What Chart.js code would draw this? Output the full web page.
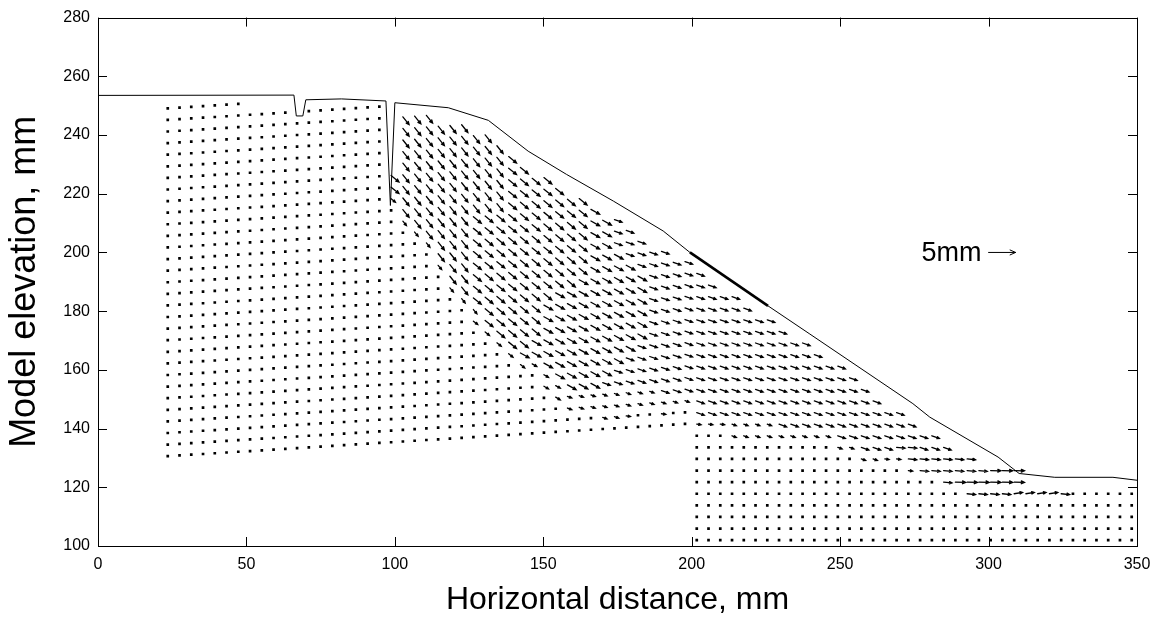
<!DOCTYPE html>
<html>
<head>
<meta charset="utf-8">
<script src="https://cdn.jsdelivr.net/npm/chart.js@4.4.1/dist/chart.umd.min.js"></script>
<style>
  html, body { margin: 0; padding: 0; background: #fff; }
  canvas { display: block; }
</style>
</head>
<body>
<canvas id="fieldChart" width="1160" height="621"></canvas>
<script>
// Ground surface of the model (mm)
const surfaceX = [0, 66, 66.8, 69, 70, 82, 97, 98.5, 100, 118, 131.5, 144.9, 157.8, 173.6, 190.4, 199.4, 225.7, 239.8, 274.5, 280.2, 303.2, 310.3, 322.3, 341.9, 350];
const surfaceY = [253.5, 253.6, 246.5, 246.5, 252, 252.3, 251.6, 216, 251, 249.3, 245, 234.5, 226.6, 217.5, 207.3, 200, 181.8, 172.2, 148.5, 143.9, 130.3, 124.7, 123.4, 123.4, 122.4];
// stretch of the surface drawn twice (heavier line)
const heavyX = [199.4, 225.7];
const heavyY = [200, 181.8];

// Measuring grid (mm)
const gridX0 = 23.5;      // first column
const gridDx = 3.96;      // column spacing
const gridDy = 3.95;      // row spacing
const upperRow0 = 130.6;  // lowest row of the upper block (columns 0-44)
const upperTilt = 0.25;   // rows of the upper block rise this much per column
const lowerRow0 = 102.0;  // lowest row of the lower block (columns 45-82)

// Displacement classes, mm (u to the right, v upwards)
const vectorCodes = ['A', 'a', 'B', 'b', 'C', 'c', 'D', 'd', 'E', 'e', 'F', 'G'];
const vectorU = [1.15, 0.65, 1.45, 0.8, 1.6, 0.85, 1.4, 0.8, 1.55, 0.8, 1.55, 1.9];
const vectorV = [-1.45, -0.8, -1.2, -0.65, -0.9, -0.5, -0.5, -0.3, -0.15, -0.1, 0.25, -0.05];

// One entry per grid column, bottom row first, run-length coded:
// "19.1a9A" = 19 dots, 1 'a' arrow, 9 'A' arrows
const upperColumns = [
    '31.', '31.', '31.', '31.', '31.', '31.', '31.',
    '30.', '30.', '30.', '30.', '29.',
    '30.', '30.', '30.', '30.', '30.', '30.', '30.',
    '21.1b2B', '19.1a9A', '18.1a10A', '17.1a11A', '15.1a12A', '13.1a14A', '12.1a15A',
    '10.1b1a8B7A', '9.1b10B7A', '8.1b11B6A', '7.1b17B', '6.1b1C16B', '6.1c2C14B',
    '4.2c6C11B', '3.2c8C9B', '2.2d9C8B', '2.2d10C7B', '2.2d16C',
    '1.3d1D14C', '1.3d2D10C3D', '1.1e2d3D8C3D', '2.2d4D6C3D',
    '2.2d12D', '1.1e1d13D', '2.1d12D', '2.1d12D'
];
const lowerColumns = [
    '10.1e13D', '10.1e12D', '10.1e11D', '9.2d11D', '9.2d10D', '9.2d9D', '9.2d9D',
    '9.1d9D', '9.1d8D', '9.1d8D', '9.1d7D', '9.1d6D', '8.1d7D', '8.1d6D',
    '7.1d6D', '7.1d5D', '7.1e4D', '7.1e1E3D', '6.1e2E2D', '6.2E2D', '6.2E2D',
    '5.3E1D', '5.1G2E', '4.1E1G2E', '4.1E1G1E', '4.1E2G', '4.1E2G', '4.1F2G',
    '4.1F', '4.1F', '4.1F', '4.1E',
    '5.', '5.', '5.', '5.', '5.', '5.', '5.'
];

// Scale arrow
const arrowScale = 1.82;   // plot mm per mm of displacement
const keyX = [300];
const keyY = [200];
const keyU = [5];
const keyLabel = '5mm';

function decodeRuns(run) {
    const out = [];
    run.replace(/(\d+)(\D)/g, (m, n, c) => {
        for (let k = 0; k < +n; k++) out.push(c);
        return m;
    });
    return out;
}

const dotPoints = [];
const arrowPoints = [];

function addColumn(col, run, row0) {
    const x = gridX0 + gridDx * col;
    decodeRuns(run).forEach((c, j) => {
        const y = row0 + gridDy * j;
        if (c === '.') {
            dotPoints.push({ x, y });
        } else {
            const k = vectorCodes.indexOf(c);
            if (k >= 0) arrowPoints.push({ x, y, u: vectorU[k], v: vectorV[k] });
        }
    });
}

upperColumns.forEach((run, i) => addColumn(i, run, upperRow0 + upperTilt * i));
lowerColumns.forEach((run, i) => addColumn(upperColumns.length + i, run, lowerRow0));

const keyPoints = keyX.map((x, i) => ({ x, y: keyY[i], u: keyU[i], v: 0 }));

// quiver style arrows drawn through the chart scales
const quiverPlugin = {
    id: 'quiver',
    afterDatasetsDraw(chart) {
        const { ctx } = chart;
        const xs = chart.scales.x, ys = chart.scales.y;
        ctx.save();
        ctx.strokeStyle = '#000';
        ctx.lineCap = 'round';
        chart.data.datasets.forEach(ds => {
            if (!ds.quiver) return;
            ctx.lineWidth = ds.arrowWidth || 1;
            ds.data.forEach(p => {
                const x0 = xs.getPixelForValue(p.x);
                const y0 = ys.getPixelForValue(p.y);
                const x1 = xs.getPixelForValue(p.x + p.u * arrowScale);
                const y1 = ys.getPixelForValue(p.y + p.v * arrowScale);
                const len = Math.hypot(x1 - x0, y1 - y0);
                const ang = Math.atan2(y1 - y0, x1 - x0);
                const head = Math.min(6, Math.max(2.5, len * 0.33));
                ctx.beginPath();
                ctx.moveTo(x0, y0);
                ctx.lineTo(x1, y1);
                ctx.moveTo(x1 - head * Math.cos(ang - 0.42), y1 - head * Math.sin(ang - 0.42));
                ctx.lineTo(x1, y1);
                ctx.lineTo(x1 - head * Math.cos(ang + 0.42), y1 - head * Math.sin(ang + 0.42));
                ctx.stroke();
            });
        });
        // key text
        const kx = xs.getPixelForValue(keyX[0]) - 7;
        const ky = ys.getPixelForValue(keyY[0]);
        ctx.fillStyle = '#000';
        ctx.font = '27px "Liberation Sans", Arial, sans-serif';
        ctx.textAlign = 'right';
        ctx.textBaseline = 'middle';
        ctx.fillText(keyLabel, kx, ky + 1);
        ctx.restore();
    }
};

// box round the plot with inward ticks on all four sides
const framePlugin = {
    id: 'frame',
    afterDraw(chart) {
        const { ctx, chartArea: a } = chart;
        const xs = chart.scales.x, ys = chart.scales.y;
        const tl = 9;
        ctx.save();
        ctx.strokeStyle = '#000';
        ctx.lineWidth = 1;
        ctx.strokeRect(Math.round(a.left) + 0.5, Math.round(a.top) + 0.5,
            Math.round(a.right - a.left), Math.round(a.bottom - a.top));
        ctx.beginPath();
        xs.ticks.forEach(t => {
            const px = Math.round(xs.getPixelForValue(t.value)) + 0.5;
            ctx.moveTo(px, a.bottom);
            ctx.lineTo(px, a.bottom - tl);
            ctx.moveTo(px, a.top);
            ctx.lineTo(px, a.top + tl);
        });
        ys.ticks.forEach(t => {
            const py = Math.round(ys.getPixelForValue(t.value)) + 0.5;
            ctx.moveTo(a.left, py);
            ctx.lineTo(a.left + tl, py);
            ctx.moveTo(a.right, py);
            ctx.lineTo(a.right - tl, py);
        });
        ctx.stroke();
        ctx.restore();
    }
};

const fontFamily = '"Liberation Sans", Arial, sans-serif';

new Chart(document.getElementById('fieldChart'), {
    type: 'scatter',
    data: {
        datasets: [
            {
                label: 'surface',
                data: surfaceX.map((x, i) => ({ x, y: surfaceY[i] })),
                showLine: true,
                borderColor: '#000',
                borderWidth: 1,
                pointRadius: 0,
                tension: 0
            },
            {
                label: 'surface (heavy)',
                data: heavyX.map((x, i) => ({ x, y: heavyY[i] })),
                showLine: true,
                borderColor: '#000',
                borderWidth: 2.6,
                pointRadius: 0
            },
            {
                label: 'small displacement',
                data: dotPoints,
                pointStyle: 'rect',
                pointRadius: 1.9,
                backgroundColor: '#000',
                borderWidth: 0
            },
            {
                label: 'displacement',
                data: arrowPoints,
                quiver: true,
                arrowWidth: 1.3,
                pointRadius: 0
            },
            {
                label: 'scale',
                data: keyPoints,
                quiver: true,
                arrowWidth: 1,
                pointRadius: 0
            }
        ]
    },
    options: {
        responsive: false,
        animation: false,
        devicePixelRatio: 1,
        layout: { padding: { top: 16, right: 23, left: 0, bottom: 0 } },
        plugins: {
            legend: { display: false },
            tooltip: { enabled: false }
        },
        scales: {
            x: {
                type: 'linear',
                min: 0,
                max: 350,
                ticks: { stepSize: 50, color: '#000', padding: 9, font: { family: fontFamily, size: 16 } },
                grid: { display: false, drawTicks: false },
                border: { display: false },
                title: {
                    display: true,
                    text: 'Horizontal distance, mm',
                    color: '#000',
                    font: { family: fontFamily, size: 32 },
                    padding: { top: 0, bottom: 2 }
                },
                afterFit: (scale) => { scale.height = 75; }
            },
            y: {
                type: 'linear',
                min: 100,
                max: 280,
                ticks: { stepSize: 20, color: '#000', padding: 8, font: { family: fontFamily, size: 16 } },
                grid: { display: false, drawTicks: false },
                border: { display: false },
                title: {
                    display: true,
                    text: 'Model elevation, mm',
                    color: '#000',
                    font: { family: fontFamily, size: 36 },
                    padding: { top: 3, bottom: 0 }
                },
                afterFit: (scale) => { scale.width = 98; }
            }
        }
    },
    plugins: [quiverPlugin, framePlugin]
});
</script>
</body>
</html>
